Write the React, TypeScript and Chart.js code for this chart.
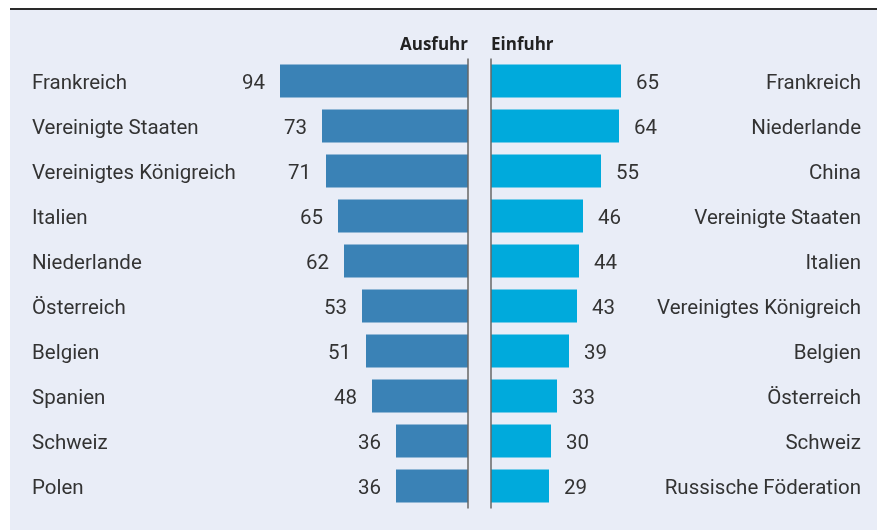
import { useEffect, useRef } from 'react';
import { Chart, registerables } from 'chart.js';

Chart.register(...registerables);

const exportTitle = 'Ausfuhr';
const importTitle = 'Einfuhr';
const exportCountries = [
  'Frankreich',
  'Vereinigte Staaten',
  'Vereinigtes Königreich',
  'Italien',
  'Niederlande',
  'Österreich',
  'Belgien',
  'Spanien',
  'Schweiz',
  'Polen',
];
const exportValues = [94, 73, 71, 65, 62, 53, 51, 48, 36, 36];
const importCountries = [
  'Frankreich',
  'Niederlande',
  'China',
  'Vereinigte Staaten',
  'Italien',
  'Vereinigtes Königreich',
  'Belgien',
  'Österreich',
  'Schweiz',
  'Russische Föderation',
];
const importValues = [65, 64, 55, 46, 44, 43, 39, 33, 30, 29];

const TEXT = '#333333';
const LABEL_FONT = { family: 'Roboto', size: 20.5 };
const TEXT_SHIFT = 2.5;

const valueLabels = {
  id: 'valueLabels',
  afterDatasetsDraw(chart: any, _args: any, opts: any) {
    const ctx = chart.ctx;
    const meta = chart.getDatasetMeta(0);
    const data = chart.data.datasets[0].data;
    ctx.save();
    ctx.font = '20.5px Roboto';
    ctx.fillStyle = TEXT;
    ctx.textBaseline = 'middle';
    const left = opts.side === 'left';
    ctx.textAlign = left ? 'right' : 'left';
    meta.data.forEach((bar: any, i: number) => {
      ctx.fillText(String(data[i]), left ? bar.x - 15 : bar.x + 15, bar.y + TEXT_SHIFT);
    });
    ctx.restore();
  },
};

const axisLine = {
  id: 'axisLine',
  afterDatasetsDraw(chart: any) {
    const { ctx, chartArea } = chart;
    const x = chart.scales.x.getPixelForValue(0);
    ctx.save();
    ctx.strokeStyle = '#666666';
    ctx.lineWidth = 1.5;
    ctx.beginPath();
    ctx.moveTo(x, chartArea.top);
    ctx.lineTo(x, chartArea.bottom);
    ctx.stroke();
    ctx.restore();
  },
};

function makeConfig(side: 'left' | 'right'): any {
  const isLeft = side === 'left';
  return {
    type: 'bar',
    data: {
      labels: isLeft ? exportCountries : importCountries,
      datasets: [
        {
          data: isLeft ? exportValues : importValues,
          backgroundColor: isLeft ? '#3A82B6' : '#00AADC',
          borderWidth: 0,
          barPercentage: 0.733,
          categoryPercentage: 1,
        },
      ],
    },
    options: {
      indexAxis: 'y',
      responsive: false,
      animation: false,
      layout: {
        padding: isLeft
          ? { left: 22, right: 2, top: 0, bottom: 21.5 }
          : { left: 1, right: 16, top: 0, bottom: 21.5 },
      },
      scales: {
        x: {
          type: 'linear',
          reverse: isLeft,
          min: 0,
          max: isLeft ? 110 : 80,
          display: false,
        },
        y: {
          position: isLeft ? 'left' : 'right',
          grid: { display: false },
          border: { display: false },
          ticks: {
            crossAlign: 'far',
            autoSkip: false,
            padding: 0,
            labelOffset: TEXT_SHIFT,
            color: TEXT,
            font: LABEL_FONT,
          },
          afterFit: (scale: any) => {
            scale.width = isLeft ? 216 : 210;
          },
        },
      },
      plugins: {
        legend: { display: false },
        tooltip: { enabled: false },
        title: {
          display: true,
          text: isLeft ? exportTitle : importTitle,
          align: isLeft ? 'end' : 'start',
          color: '#222222',
          font: { family: 'Open Sans', weight: 'bold', size: 17, lineHeight: 1.2 },
          padding: { top: 24.5, bottom: 3.6 },
        },
        valueLabels: { side },
      },
    },
    plugins: [valueLabels, axisLine],
  };
}

function BarPanel({ side, left, width }: { side: 'left' | 'right'; left: number; width: number }) {
  const ref = useRef<HTMLCanvasElement | null>(null);
  useEffect(() => {
    if (!ref.current) return;
    const chart = new Chart(ref.current, makeConfig(side));
    return () => chart.destroy();
  }, [side]);
  return (
    <canvas
      ref={ref}
      width={width}
      height={520}
      style={{ position: 'absolute', left, top: 0, width, height: 520 }}
    />
  );
}

export default function App() {
  return (
    <div
      style={{
        position: 'fixed',
        left: 10,
        top: 8,
        width: 867,
        height: 520,
        borderTop: '2px solid #2a2a2a',
        background: '#E9EDF7',
      }}
    >
      <BarPanel side="left" left={0} width={460} />
      <BarPanel side="right" left={480} width={387} />
    </div>
  );
}
